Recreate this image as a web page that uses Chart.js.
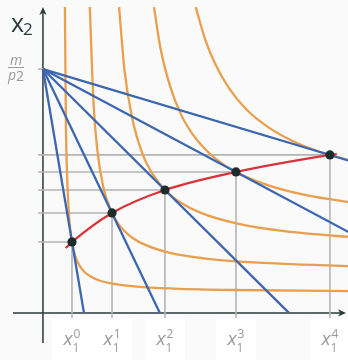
<!DOCTYPE html>
<html>
<head>
<meta charset="utf-8">
<script src="https://cdn.jsdelivr.net/npm/chart.js@4.4.1/dist/chart.umd.min.js"></script>
<style>
  html, body { margin: 0; padding: 0; background: #fafafa; }
  canvas { display: block; }
</style>
</head>
<body>
<canvas id="c" width="348" height="360"></canvas>
<script>
// Demand points x1^0 .. x1^4 and the matching x2 quantities
const tickSuperscripts = ['0', '1', '2', '3', '4'];
const demandX1 = [1.19, 2.83, 5.00, 7.91, 11.76];
const demandX2 = [2.91, 4.10, 5.04, 5.78, 6.48];

// Budget lines all start at m/p2 on the x2 axis and pivot outward as p1 falls
const incomeOverP2 = 10;
const budgetIntercepts = [1.68, 4.79, 10.08, 18.74, 33.37];

// Price-offer curve through the optimal bundles
const offerCurve = [[0.93, 2.66], [1.19, 2.91], [2.83, 4.10], [5.00, 5.04], [7.91, 5.78], [11.76, 6.48], [12.04, 6.52]];

// Indifference curves, one per budget line
const indiff1 = [[0.90, 12.54], [0.94, 7.84], [1.00, 5.34], [1.08, 3.84], [1.19, 2.91], [1.32, 2.34], [1.50, 1.94], [1.69, 1.69], [1.94, 1.50], [2.34, 1.32], [2.91, 1.19], [3.84, 1.08], [5.34, 1.00], [7.84, 0.94], [13.5, 0.89]];
const indiff2 = [[1.92, 12.54], [2.07, 8.66], [2.23, 6.66], [2.47, 5.16], [2.83, 4.10], [3.08, 3.66], [3.35, 3.35], [3.66, 3.08], [4.10, 2.83], [5.16, 2.47], [6.66, 2.23], [8.66, 2.07], [12.54, 1.92], [13.5, 1.90]];
const indiff3 = [[3.12, 12.54], [3.34, 9.97], [3.66, 7.97], [4.10, 6.47], [4.51, 5.67], [5.02, 5.02], [5.67, 4.51], [6.47, 4.10], [7.97, 3.66], [9.97, 3.34], [12.54, 3.12], [13.5, 3.06]];
const indiff4 = [[4.55, 12.54], [4.82, 10.83], [5.20, 9.33], [5.66, 8.13], [6.13, 7.33], [6.68, 6.68], [7.33, 6.13], [7.91, 5.78], [8.13, 5.66], [9.33, 5.20], [10.83, 4.82], [12.54, 4.55], [13.5, 4.43]];
const indiff5 = [[6.26, 12.54], [6.65, 11.21], [7.06, 10.21], [7.63, 9.21], [8.34, 8.34], [9.21, 7.63], [10.21, 7.06], [11.21, 6.65], [11.76, 6.48], [12.54, 6.26], [13.5, 6.05]];
const indifferenceCurves = [indiff1, indiff2, indiff3, indiff4, indiff5];

const COLORS = {
  axis: '#2b3a3a',
  guide: '#b4b4b4',
  orange: '#e99f4e',
  blue: '#3d66b0',
  red: '#d9333a',
  dot: '#1e2b2b',
  label: '#9a9a9a'
};
const FONT = '"Open Sans", "DejaVu Sans", sans-serif';
const GUIDE_OVERHANG = -0.2;

const toXY = ([x, y]) => ({ x, y });
const datasets = [];

// Grey guides from each bundle to both axes
demandX1.forEach((x1, i) => {
  datasets.push({
    data: [{ x: GUIDE_OVERHANG, y: demandX2[i] }, { x: x1, y: demandX2[i] }, { x: x1, y: GUIDE_OVERHANG }],
    borderColor: COLORS.guide, borderWidth: 1.6, pointRadius: 0, order: 5
  });
});

indifferenceCurves.forEach(curve => {
  datasets.push({
    data: curve.map(toXY),
    borderColor: COLORS.orange, borderWidth: 2.3, pointRadius: 0,
    cubicInterpolationMode: 'monotone', order: 4
  });
});

budgetIntercepts.forEach(xi => {
  datasets.push({
    data: [{ x: 0, y: incomeOverP2 }, { x: xi, y: 0 }],
    borderColor: COLORS.blue, borderWidth: 2.3, pointRadius: 0, order: 3
  });
});

datasets.push({
  data: offerCurve.map(toXY),
  borderColor: COLORS.red, borderWidth: 2.2, pointRadius: 0,
  cubicInterpolationMode: 'monotone', order: 2
});

datasets.push({
  data: demandX1.map((x, i) => ({ x, y: demandX2[i] })),
  showLine: false, pointRadius: 4.6, pointBackgroundColor: COLORS.dot,
  pointBorderColor: COLORS.dot, pointBorderWidth: 0, order: 1
});

function arrowHead(ctx, tipX, tipY, dx, dy) {
  // stealth-style head pointing along (dx, dy)
  const len = 8, half = 3.6, notch = 2.2;
  const px = -dy, py = dx;
  ctx.beginPath();
  ctx.moveTo(tipX, tipY);
  ctx.lineTo(tipX - dx * len + px * half, tipY - dy * len + py * half);
  ctx.lineTo(tipX - dx * (len - notch), tipY - dy * (len - notch));
  ctx.lineTo(tipX - dx * len - px * half, tipY - dy * len - py * half);
  ctx.closePath();
  ctx.fill();
}

const decorations = {
  id: 'decorations',
  beforeDatasetsDraw(chart) {
    const { ctx, scales: { x, y } } = chart;
    const x0 = x.getPixelForValue(0), y0 = y.getPixelForValue(0);
    ctx.save();
    // white panels behind the x1 labels
    ctx.fillStyle = '#ffffff';
    demandX1.forEach(v => {
      const cx = x.getPixelForValue(v);
      ctx.fillRect(Math.round(cx - 20), y0 + 6, 40, chart.height - y0 - 6);
    });
    // axes
    ctx.strokeStyle = COLORS.axis;
    ctx.fillStyle = COLORS.axis;
    ctx.lineWidth = 1.5;
    ctx.beginPath();
    ctx.moveTo(x0, y0 + 30);
    ctx.lineTo(x0, 13);
    ctx.moveTo(x0 - 30, y0);
    ctx.lineTo(chart.width - 6, y0);
    ctx.stroke();
    arrowHead(ctx, x0, 7, 0, -1);
    arrowHead(ctx, chart.width - 2, y0, 1, 0);
    // tick for m/p2
    const ym = y.getPixelForValue(incomeOverP2);
    ctx.strokeStyle = COLORS.guide;
    ctx.lineWidth = 1.6;
    ctx.beginPath();
    ctx.moveTo(x.getPixelForValue(GUIDE_OVERHANG), ym);
    ctx.lineTo(x0, ym);
    ctx.stroke();
    ctx.restore();
  },
  afterDatasetsDraw(chart) {
    const { ctx, scales: { x, y } } = chart;
    const y0 = y.getPixelForValue(0);
    ctx.save();
    ctx.textBaseline = 'alphabetic';

    // x1 tick labels with sub- and superscripts
    demandX1.forEach((v, i) => {
      const cx = x.getPixelForValue(v);
      ctx.font = 'italic 19px ' + FONT;
      const wx = ctx.measureText('x').width;
      ctx.font = '12px ' + FONT;
      const ws = Math.max(ctx.measureText('1').width, ctx.measureText(tickSuperscripts[i]).width);
      const left = cx - (wx + ws) / 2 - 0.5;
      ctx.fillStyle = COLORS.label;
      ctx.font = 'italic 19px ' + FONT;
      ctx.textAlign = 'left';
      ctx.fillText('x', left, y0 + 32);
      ctx.font = '12px ' + FONT;
      ctx.fillText('1', left + wx, y0 + 39);
      ctx.fillText(tickSuperscripts[i], left + wx + 1, y0 + 25);
    });

    // m / p2 on the vertical axis
    const ym = y.getPixelForValue(incomeOverP2);
    ctx.fillStyle = COLORS.label;
    ctx.textAlign = 'center';
    ctx.font = 'italic 14px ' + FONT;
    ctx.fillText('m', 16, ym - 4);
    ctx.strokeStyle = COLORS.label;
    ctx.lineWidth = 1;
    ctx.beginPath();
    ctx.moveTo(8, ym - 1.5);
    ctx.lineTo(24, ym - 1.5);
    ctx.stroke();
    ctx.textAlign = 'left';
    ctx.font = 'italic 14px ' + FONT;
    const wp = ctx.measureText('p').width;
    ctx.fillText('p', 8, ym + 11);
    ctx.font = '14px ' + FONT;
    ctx.fillText('2', 8 + wp, ym + 12);

    // axis title x2
    ctx.fillStyle = COLORS.axis;
    ctx.font = '25px ' + FONT;
    const wX = ctx.measureText('x').width;
    ctx.fillText('x', 11, 32);
    ctx.font = '17px ' + FONT;
    ctx.fillText('2', 11 + wX - 1, 35);
    ctx.restore();
  }
};

new Chart(document.getElementById('c'), {
  type: 'scatter',
  data: { datasets: datasets.map(d => Object.assign({ showLine: true, fill: false }, d)) },
  options: {
    responsive: false,
    animation: false,
    events: [],
    layout: { padding: 0, autoPadding: false },
    plugins: { legend: { display: false }, tooltip: { enabled: false } },
    scales: {
      x: { type: 'linear', min: -1.76, max: 12.5, display: false },
      y: { type: 'linear', min: -1.93, max: 12.83, display: false }
    }
  },
  plugins: [decorations]
});
</script>
</body>
</html>
